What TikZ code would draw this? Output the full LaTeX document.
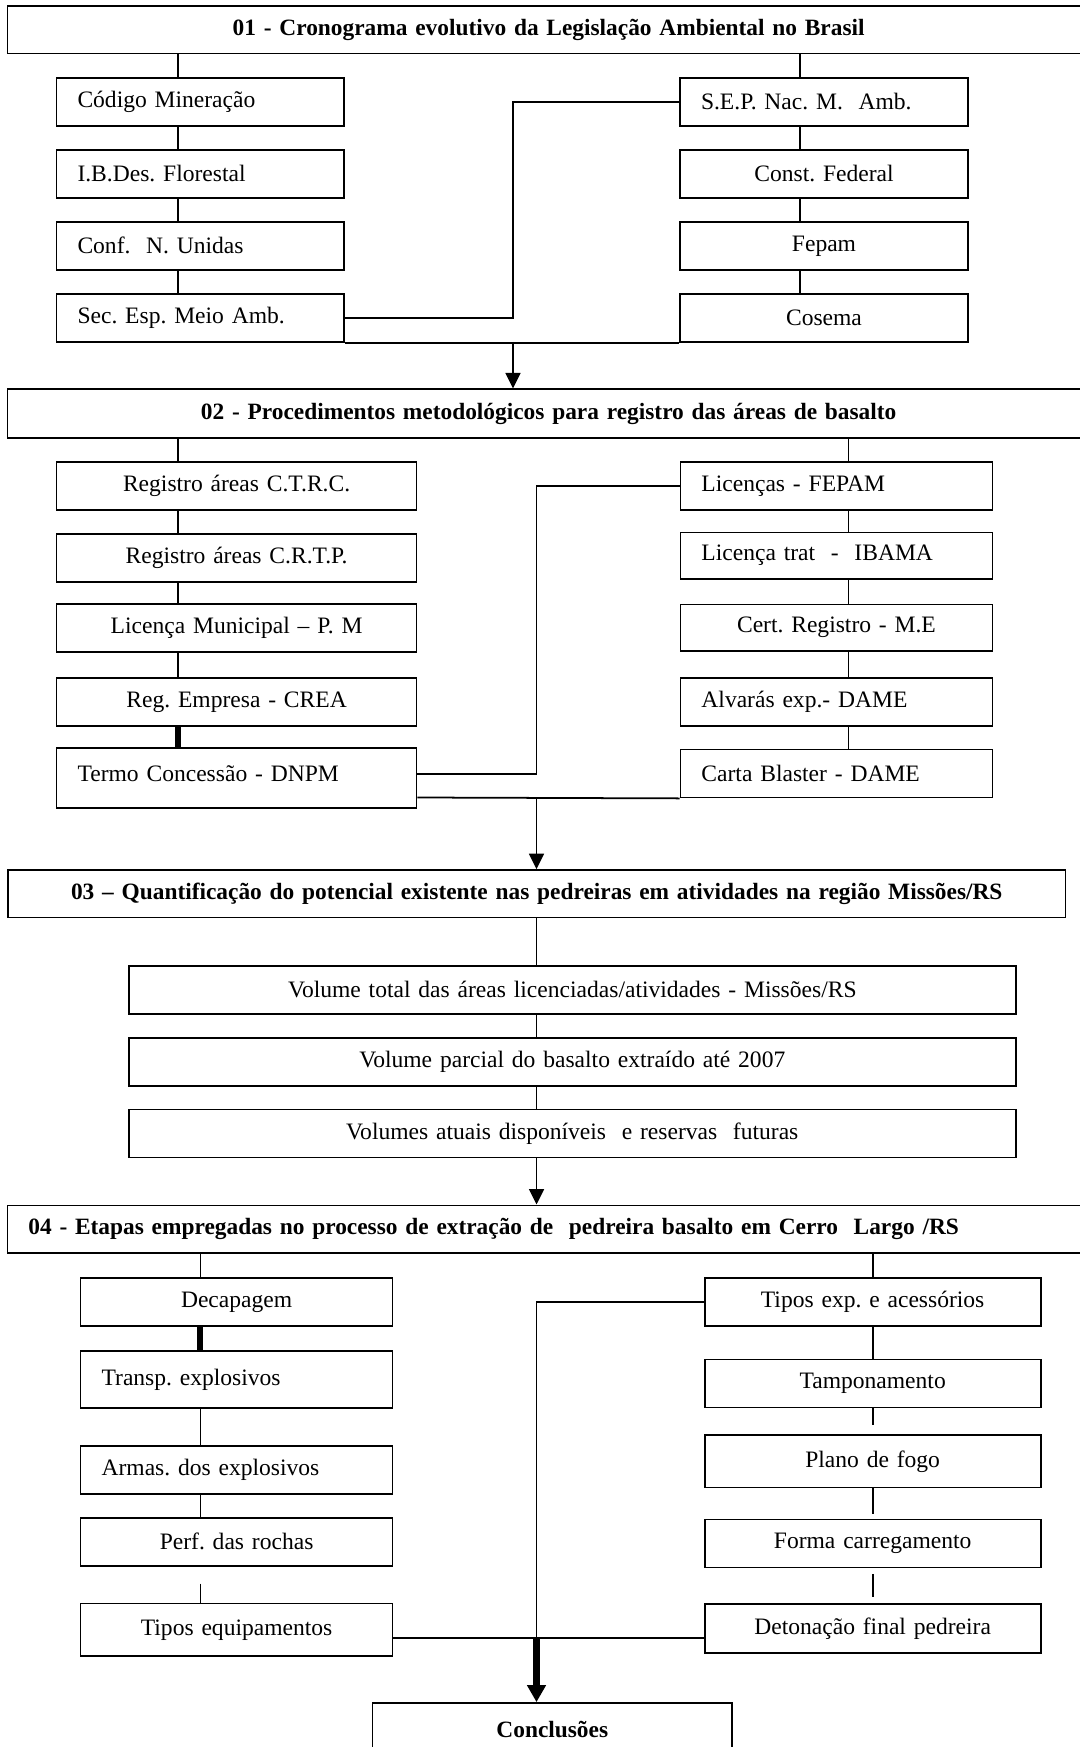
\documentclass[tikz,border=0pt]{standalone}
\usepackage{fontspec}
\setmainfont{Liberation Serif}
\usetikzlibrary{arrows.meta}
\frenchspacing

\begin{document}
\begin{tikzpicture}[every node/.style={draw=black,line width=1pt,inner ysep=0pt,inner xsep=0.42cm,minimum height=0.96cm,font=\fontsize{13.4}{16}\selectfont},
    head/.style={font=\fontsize{13.3}{16}\selectfont\bfseries,minimum height=0.95cm},
    lcol/.style={text width=#1,align=left},
    ccol/.style={text width=#1,align=center},
    link/.style={line width=1pt},
    thk/.style={line width=3.4pt},
    arr/.style={line width=1pt,-{Triangle[length=0.31cm,width=0.3cm]}},
    bigarr/.style={line width=4pt,-{Triangle[length=0.34cm,width=0.36cm]}},]
        \useasboundingbox (0,0) rectangle (21.6,-34.94);
        % 01
        \node[head,ccol=20.81cm] (t01) at (10.973,-0.593) {01 - Cronograma evolutivo da Legislação Ambiental no Brasil};
        \node[lcol=4.91cm] (cm) at (4.005,-2.037) {Código Mineração};
        \node[lcol=4.91cm] (ib) at (4.005,-3.48) {I.B.Des. Florestal};
        \node[lcol=4.91cm] (cf) at (4.005,-4.917) {Conf.~~N. Unidas};
        \node[lcol=4.91cm] (se) at (4.005,-6.357) {Sec. Esp. Meio Amb.};
        \node[lcol=4.92cm] (sp) at (16.48,-2.037) {S.E.P. Nac. M.~~Amb.};
        \node[ccol=4.92cm] (co) at (16.48,-3.48) {Const. Federal};
        \node[ccol=4.92cm] (fe) at (16.48,-4.917) {Fepam};
        \node[ccol=4.92cm] (cs) at (16.48,-6.357) {Cosema};
        \coordinate (a) at (3.554,0);
        \coordinate (b) at (16.0,0);
        \coordinate (j1) at (10.26,-6.84);
        \draw[link] (t01.south -| a) -- (cm.north -| a);
        \draw[link] (cm.south -| a) -- (ib.north -| a);
        \draw[link] (ib.south -| a) -- (cf.north -| a);
        \draw[link] (cf.south -| a) -- (se.north -| a);
        \draw[link] (t01.south -| b) -- (sp.north -| b);
        \draw[link] (sp.south -| b) -- (co.north -| b);
        \draw[link] (co.south -| b) -- (fe.north -| b);
        \draw[link] (fe.south -| b) -- (cs.north -| b);
        \draw[link] (se.east) -| (j1 |- sp.west) -- (sp.west);
        \draw[link] (se.south east) -- (cs.south west);
        % 02
        \node[head,ccol=20.81cm,minimum height=0.98cm] (t02) at (10.973,-8.276) {02 - Procedimentos metodológicos para registro das áreas de basalto};
        \draw[arr] (j1) -- (j1 |- t02.north);
        \node[ccol=6.36cm] (ct) at (4.732,-9.717) {Registro áreas C.T.R.C.};
        \node[ccol=6.36cm] (cr) at (4.732,-11.156) {Registro áreas C.R.T.P.};
        \node[ccol=6.36cm] (lm) at (4.732,-12.566) {Licença Municipal – P. M};
        \node[ccol=6.36cm] (re) at (4.732,-14.037) {Reg. Empresa - CREA};
        \node[lcol=6.36cm,minimum height=1.2cm,text height=0.33cm,text depth=0.17cm] (te) at (4.732,-15.554) {Termo Concessão - DNPM};
        \node[lcol=5.40cm] (lf) at (16.729,-9.717) {Licenças - FEPAM};
        \node[lcol=5.40cm,minimum height=0.93cm] (li) at (16.729,-11.113) {Licença trat~~-~~IBAMA};
        \node[ccol=5.40cm,minimum height=0.93cm] (ce) at (16.729,-12.553) {Cert. Registro - M.E};
        \node[lcol=5.40cm] (al) at (16.729,-14.037) {Alvarás exp.- DAME};
        \node[lcol=5.40cm] (ca) at (16.729,-15.47) {Carta Blaster - DAME};
        \coordinate (c) at (16.97,0);
        \coordinate (j2) at (10.73,-15.95);
        \draw[link] (t02.south -| a) -- (ct.north -| a);
        \draw[link] (ct.south -| a) -- (cr.north -| a);
        \draw[link] (cr.south -| a) -- (lm.north -| a);
        \draw[link] (lm.south -| a) -- (re.north -| a);
        \draw[thk] (re.south -| a) -- (te.north -| a);
        \draw[link] (t02.south -| c) -- (lf.north -| c);
        \draw[link] (lf.south -| c) -- (li.north -| c);
        \draw[link] (li.south -| c) -- (ce.north -| c);
        \draw[link] (ce.south -| c) -- (al.north -| c);
        \draw[link] (al.south -| c) -- (ca.north -| c);
        \draw[link] ([yshift=0.08cm]te.east) -| (j2 |- lf.west) -- (lf.west);
        \draw[link] (te.east |- j2) -- (ca.south west);
        % 03
        \node[head,ccol=20.31cm] (t03) at (10.735,-17.877) {03 – Quantificação do potencial existente nas pedreiras em atividades na região Missões/RS};
        \draw[arr] (j2) -- (j2 |- t03.north);
        \node[ccol=16.9cm] (vt) at (11.446,-19.797) {Volume total das áreas licenciadas/atividades - Missões/RS};
        \node[ccol=16.9cm] (vp) at (11.446,-21.234) {Volume parcial do basalto extraído até 2007};
        \node[ccol=16.9cm] (va) at (11.446,-22.67) {Volumes atuais disponíveis~~e reservas~~futuras};
        \draw[link] (t03.south -| j2) -- (vt.north -| j2);
        \draw[link] (vt.south -| j2) -- (vp.north -| j2);
        \draw[link] (vp.south -| j2) -- (va.north -| j2);
        % 04
        \node[head,lcol=20.81cm] (t04) at (10.973,-24.583) {04 - Etapas empregadas no processo de extração de~~pedreira basalto em Cerro~~Largo /RS};
        \draw[arr] (va.south -| j2) -- (t04.north -| j2);
        \node[ccol=5.40cm] (dc) at (4.732,-26.037) {Decapagem};
        \node[lcol=5.40cm,minimum height=1.134cm] (tr) at (4.732,-27.587) {Transp. explosivos};
        \node[lcol=5.40cm] (am) at (4.732,-29.403) {Armas. dos explosivos};
        \node[ccol=5.40cm] (pf) at (4.732,-30.837) {Perf. das rochas};
        \node[ccol=5.40cm,minimum height=1.05cm] (tq) at (4.732,-32.597) {Tipos equipamentos};
        \node[ccol=5.88cm] (tx) at (17.453,-26.037) {Tipos exp. e acessórios};
        \node[ccol=5.88cm] (tp) at (17.453,-27.67) {Tamponamento};
        \node[ccol=5.88cm,minimum height=1.05cm] (pl) at (17.453,-29.227) {Plano de fogo};
        \node[ccol=5.88cm] (fc) at (17.453,-30.87) {Forma carregamento};
        \node[ccol=5.88cm,minimum height=0.98cm] (dt) at (17.453,-32.564) {Detonação final pedreira};
        \node[head,ccol=6.35cm,minimum height=1.04cm] (cc) at (11.046,-34.58) {Conclusões};
        \coordinate (d) at (4.008,0);
        \coordinate (j4) at (10.73,-32.754);
        \draw[link] (t04.south -| d) -- (dc.north -| d);
        \draw[thk] (dc.south -| d) -- (tr.north -| d);
        \draw[link] (tr.south -| d) -- (am.north -| d);
        \draw[link] (am.south -| d) -- (pf.north -| d);
        \draw[link,shorten <=0.34cm] (pf.south -| d) -- (tq.north -| d);
        \draw[link] (t04.south -| tx) -- (tx.north);
        \draw[link] (tx.south) -- (tp.north);
        \draw[link,shorten >=0.18cm] (tp.south) -- (pl.north);
        \draw[link,shorten >=0.1cm] (pl.south) -- (fc.north);
        \draw[link,shorten <=0.11cm,shorten >=0.11cm] (fc.south) -- (dt.north);
        \draw[link] (tx.west) -| (j4);
        \draw[link] (tq.east |- j4) -- (dt.west |- j4);
        \draw[bigarr] (j4) -- (j4 |- cc.north);
\end{tikzpicture}
\end{document}
